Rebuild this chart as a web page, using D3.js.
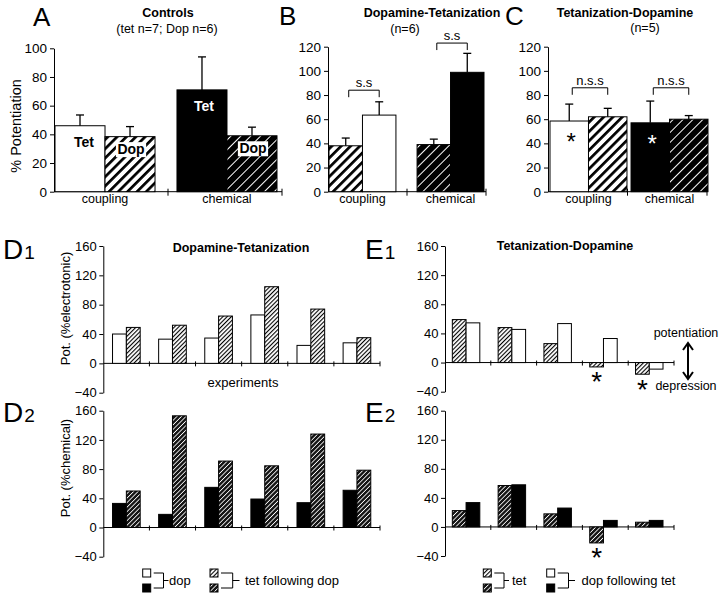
<!DOCTYPE html>
<html><head><meta charset="utf-8">
<script src="https://cdn.jsdelivr.net/npm/d3@7"></script>
<style>
body{margin:0;background:#fff}
svg{display:block;font-family:"Liberation Sans",Arial,Helvetica,sans-serif}
</style>
</head><body>
<svg id="c" width="720" height="596"></svg>
<script>
// ---------- data ----------
const topCategories = ["coupling", "chemical"];
// A: Controls
const aTet = [46, 71], aTetErr = [7.5, 23];
const aDop = [38.4, 39], aDopErr = [7, 6];
const aTicks = [0, 20, 40, 60, 80, 100];
// B: Dopamine-Tetanization (dop first, then tet)
const bDop = [38, 39], bDopErr = [6.4, 4.5];
const bTet = [63.4, 98.8], bTetErr = [11, 15.7];
const bBracket = [84, 123];
// C: Tetanization-Dopamine (tet first, then dop)
const cTet = [58.5, 57], cTetErr = [14, 18];
const cDop = [62, 60], cDopErr = [7, 3];
const cBracket = [86, 86];
const bcTicks = [0, 20, 40, 60, 80, 100, 120];
// D / E: individual experiments
const expTicks = [-40, 0, 40, 80, 120, 160];
const dExperiments = [1, 2, 3, 4, 5, 6];
const d1Dop = [40, 33, 34.5, 66, 24.5, 28];
const d1Tet = [49, 52, 64.5, 104.5, 74, 35];
const d2Dop = [33, 18, 55, 39, 34, 51];
const d2Tet = [50, 153, 91, 84.5, 128, 78.5];
const eExperiments = [1, 2, 3, 4, 5];
const e1Tet = [59, 48, 26, -6, -16];
const e1Dop = [54.5, 45.5, 53.5, 33, -9];
const e2Tet = [22.5, 57, 18, -22, 6.5];
const e2Dop = [33.5, 58, 26, 9, 9];
const e1Stars = [4, 5];
const e2Stars = [4];

// ---------- setup ----------
const svg = d3.select("#c");
const defs = svg.append("defs");
function hatch(id, period, bg, fg, w) {
  const p = defs.append("pattern").attr("id", id).attr("patternUnits", "userSpaceOnUse")
    .attr("width", period).attr("height", period).attr("patternTransform", "rotate(45)");
  p.append("rect").attr("width", period).attr("height", period).attr("fill", bg);
  p.append("rect").attr("x", 0).attr("y", 0).attr("width", w).attr("height", period).attr("fill", fg);
}
hatch("hl", 6.6, "#fff", "#000", 2.7);
hatch("hd", 7, "#000", "#fff", 1);
hatch("sl", 3, "#fff", "#000", 1.1);
hatch("sd", 3.2, "#151515", "#fff", 0.8);
const fills = {white: "#fff", black: "#000", hl: "url(#hl)", hd: "url(#hd)", sl: "url(#sl)", sd: "url(#sd)"};

function styleAxis(sel, fs) {
  sel.selectAll("path,line").attr("stroke", "#000").attr("stroke-width", 1);
  sel.selectAll("text").attr("font-size", fs).attr("fill", "#000")
    .attr("font-family", '"Liberation Sans",Arial,sans-serif');
}
function txt(x, y, s, fs, opts = {}) {
  const t = svg.append("text").attr("x", x).attr("y", y).text(s).attr("font-size", fs)
    .attr("text-anchor", opts.anchor || "middle").attr("fill", opts.fill || "#000");
  if (opts.bold) t.attr("font-weight", "bold");
  if (opts.rot) t.attr("transform", `rotate(-90,${x},${y})`);
  return t;
}
function panelLetter(x, y, main, sub) {
  const t = svg.append("text").attr("x", x).attr("y", y).attr("font-size", sub ? 28 : 26);
  t.append("tspan").text(main);
  if (sub) t.append("tspan").attr("font-size", 19).attr("dx", 1).text(sub);
}

// ---------- top panels ----------
function topPanel(o) {
  const g = svg.append("g");
  const y = d3.scaleLinear().domain(o.yDomain).range(o.yRange);
  const xAxis = d3.scaleBand().domain(topCategories).range([o.axisX, o.axisEnd]);
  const x = d3.scaleBand().domain(topCategories).range(o.barRange).paddingInner(o.pad);
  const x1 = d3.scaleBand().domain([0, 1]).range([0, x.bandwidth()]);
  const ya = g.append("g").attr("transform", `translate(${o.axisX},0)`)
    .call(d3.axisLeft(y).tickValues(o.ticks).tickSize(4).tickSizeOuter(0).tickPadding(3));
  styleAxis(ya, 13.5);
  const y0 = y(0);
  g.append("line").attr("x1", o.axisX).attr("x2", o.axisEnd).attr("y1", y0).attr("y2", y0).attr("stroke", "#000");
  topCategories.forEach(c => {
    const tx = xAxis(c) + xAxis.bandwidth();
    g.append("line").attr("x1", tx).attr("x2", tx).attr("y1", y0 - 3).attr("y2", y0 + 4).attr("stroke", "#000");
    txt(x(c) + x.bandwidth() / 2, 203, c, 12.5);
  });
  // bars + error bars
  o.series.forEach((s, si) => {
    topCategories.forEach((c, ci) => {
      const v = s.vals[ci], e = s.errs[ci];
      const bx = x(c) + x1(si), bw = x1.bandwidth(), cx = bx + bw / 2;
      g.append("rect").attr("x", bx).attr("y", y(v)).attr("width", bw).attr("height", y0 - y(v))
        .attr("fill", fills[s.fill[ci]]).attr("stroke", "#000").attr("stroke-width", 1);
      g.append("line").attr("x1", cx).attr("x2", cx).attr("y1", y(v)).attr("y2", y(v + e)).attr("stroke", "#000").attr("stroke-width", 1.3);
      g.append("line").attr("x1", cx - 4).attr("x2", cx + 4).attr("y1", y(v + e)).attr("y2", y(v + e)).attr("stroke", "#000").attr("stroke-width", 1.3);
    });
  });
  // brackets
  if (o.brackets) {
    topCategories.forEach((c, ci) => {
      const bw = x1.bandwidth();
      const l = x(c) + x1(0) + bw / 2 + 3, r = x(c) + x1(1) + bw / 2;
      const by = y(o.brackets[ci]);
      g.append("path").attr("d", `M${l},${by + 7}V${by}H${r}V${by + 7}`).attr("fill", "none").attr("stroke", "#000");
      txt((l + r) / 2, by - 3, o.bracketText, 13);
    });
  }
  return {x, x1, y};
}

// A
const A = topPanel({
  yDomain: [0, 100], yRange: [191.7, 48.3], axisX: 54, axisEnd: 282,
  barRange: [55, 277], pad: 0.18, ticks: aTicks,
  series: [{vals: aTet, errs: aTetErr, fill: ["white", "black"]},
           {vals: aDop, errs: aDopErr, fill: ["hl", "hd"]}]
});
(function () {
  const bw = A.x1.bandwidth();
  const labels = [
    {s: 0, c: 0, v: aTet[0], t: "Tet", col: "#000", box: false, dy: 21.5, dx: 4},
    {s: 1, c: 0, v: aDop[0], t: "Dop", col: "#000", box: true, dy: 17.5, dx: 1},
    {s: 0, c: 1, v: aTet[1], t: "Tet", col: "#fff", box: false, dy: 21.5, dx: 2},
    {s: 1, c: 1, v: aDop[1], t: "Dop", col: "#000", box: true, dy: 17.5, dx: 1}
  ];
  labels.forEach(L => {
    const cx = A.x(topCategories[L.c]) + A.x1(L.s) + bw / 2 + L.dx;
    const t = txt(cx, A.y(L.v) + L.dy, L.t, 14, {bold: true, fill: L.col});
    if (L.box) {
      const bb = t.node().getBBox();
      svg.insert("rect", () => t.node()).attr("x", bb.x - 1.5).attr("y", bb.y + 1).attr("width", bb.width + 3)
        .attr("height", bb.height - 1).attr("fill", "#fff");
    }
  });
})();
panelLetter(33, 26, "A");
txt(168, 16.5, "Controls", 12.5, {bold: true});
txt(167, 33, "(tet n=7; Dop n=6)", 12.5);
txt(20.5, 126, "% Potentiation", 14.5, {rot: true});

// B
topPanel({
  yDomain: [0, 120], yRange: [191.7, 46.7], axisX: 328, axisEnd: 486,
  barRange: [329, 484], pad: 0.24, ticks: bcTicks,
  series: [{vals: bDop, errs: bDopErr, fill: ["hl", "hd"]},
           {vals: bTet, errs: bTetErr, fill: ["white", "black"]}],
  brackets: bBracket, bracketText: "s.s"
});
panelLetter(279, 25, "B");
txt(432, 16.5, "Dopamine-Tetanization", 12.5, {bold: true});
txt(405, 32.5, "(n=6)", 12.5);

// C
const C = topPanel({
  yDomain: [0, 120], yRange: [191.7, 46.7], axisX: 548, axisEnd: 707,
  barRange: [550, 708], pad: 0.05, ticks: bcTicks,
  series: [{vals: cTet, errs: cTetErr, fill: ["white", "black"]},
           {vals: cDop, errs: cDopErr, fill: ["hl", "hd"]}],
  brackets: cBracket, bracketText: "n.s.s"
});
topCategories.forEach((c, ci) => {
  const cx = C.x(c) + C.x1(0) + C.x1.bandwidth() / 2 + 2;
  txt(cx, C.y(cTet[ci]) + 15 + 14, "*", 24, {fill: ci === 0 ? "#000" : "#fff"});
});
panelLetter(505, 25, "C");
txt(625, 16.5, "Tetanization-Dopamine", 12.5, {bold: true});
txt(645, 31.5, "(n=5)", 12.5);

// ---------- experiment panels ----------
function expPanel(o) {
  const g = svg.append("g");
  const y = d3.scaleLinear().domain([-40, 160]).range(o.yRange);
  const x = d3.scaleBand().domain(o.exps).range([o.axisX, o.axisEnd]);
  const x1 = d3.scaleBand().domain([0, 1]).range([0, x.bandwidth()]).paddingOuter(0.667).align(o.align);
  const ya = g.append("g").attr("transform", `translate(${o.axisX},0)`)
    .call(d3.axisLeft(y).tickValues(expTicks).tickSize(4).tickSizeOuter(0).tickPadding(2.5));
  styleAxis(ya, 13);
  const y0 = y(0);
  g.append("line").attr("x1", o.axisX).attr("x2", o.axisEnd).attr("y1", y0).attr("y2", y0).attr("stroke", "#000");
  o.exps.forEach(e => {
    const tx = x(e) + x.bandwidth();
    g.append("line").attr("x1", tx).attr("x2", tx).attr("y1", y0 - 2).attr("y2", y0 + 3).attr("stroke", "#000");
  });
  o.series.forEach((s, si) => {
    o.exps.forEach((e, ei) => {
      const v = s.vals[ei];
      g.append("rect").attr("x", x(e) + x1(si)).attr("y", y(Math.max(0, v)))
        .attr("width", x1.bandwidth()).attr("height", Math.abs(y(v) - y0))
        .attr("fill", fills[s.fill]).attr("stroke", "#000").attr("stroke-width", 1);
    });
  });
  (o.stars || []).forEach(e => {
    const v = o.series[0].vals[e - 1];
    const cx = x(e) + x1(0) + x1.bandwidth() / 2;
    txt(cx, y(Math.min(0, v)) + 8.5 + 16, "*", 28);
  });
  return {x, y};
}

expPanel({yRange: [392.7, 246], axisX: 103.3, axisEnd: 380, exps: dExperiments, align: 0.5,
  series: [{vals: d1Dop, fill: "white"}, {vals: d1Tet, fill: "sl"}]});
expPanel({yRange: [556.7, 410.7], axisX: 103.3, axisEnd: 380, exps: dExperiments, align: 0.5,
  series: [{vals: d2Dop, fill: "black"}, {vals: d2Tet, fill: "sd"}]});
expPanel({yRange: [391.7, 246], axisX: 445, axisEnd: 674, exps: eExperiments, align: 0.4,
  series: [{vals: e1Tet, fill: "sl"}, {vals: e1Dop, fill: "white"}], stars: e1Stars});
expPanel({yRange: [556, 410.7], axisX: 445, axisEnd: 674, exps: eExperiments, align: 0.4,
  series: [{vals: e2Tet, fill: "sd"}, {vals: e2Dop, fill: "black"}], stars: e2Stars});

panelLetter(3, 259, "D", "1");
panelLetter(3, 421.7, "D", "2");
panelLetter(365, 259, "E", "1");
panelLetter(365, 421.7, "E", "2");
txt(241, 251.5, "Dopamine-Tetanization", 12.5, {bold: true});
txt(565, 250, "Tetanization-Dopamine", 12.5, {bold: true});
txt(243, 386.5, "experiments", 13);
txt(69.5, 308.5, "Pot. (%electrotonic)", 13, {rot: true});
txt(69.5, 468, "Pot. (%chemical)", 13, {rot: true});

// potentiation / depression arrow
txt(686, 337, "potentiation", 12.5);
txt(686, 389.5, "depression", 12.5);
svg.append("path").attr("d", "M688,344V378M683,350L688,343L693,350M683,372L688,379L693,372")
  .attr("fill", "none").attr("stroke", "#000").attr("stroke-width", 2);

// ---------- legends ----------
function legend(sx, f1, f2, bx, mx, label, tx) {
  const g = svg.append("g");
  g.append("rect").attr("x", sx).attr("y", 569).attr("width", 8).attr("height", 8).attr("fill", fills[f1]).attr("stroke", "#000");
  g.append("rect").attr("x", sx).attr("y", 584).attr("width", 8).attr("height", 8).attr("fill", fills[f2]).attr("stroke", "#000");
  g.append("path").attr("d", `M${sx + 11},573H${bx}V588H${sx + 11}M${bx},580.5H${mx}`)
    .attr("fill", "none").attr("stroke", "#000").attr("stroke-width", 1);
  txt(tx, 584.5, label, 13, {anchor: "start"});
}
legend(142.7, "white", "black", 163.5, 168.5, "dop", 169);
legend(210, "sl", "sd", 232.7, 239.5, "tet following dop", 245);
legend(483.3, "sl", "sd", 504, 509, "tet", 512);
legend(546.7, "white", "black", 568.5, 575, "dop following tet", 581.5);
</script>
</body></html>
